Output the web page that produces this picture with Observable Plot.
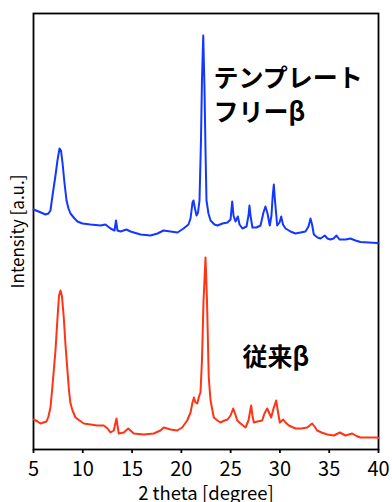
<!DOCTYPE html>
<html>
<head>
<meta charset="utf-8">
<script src="https://cdn.jsdelivr.net/npm/d3@7"></script>
<script src="https://cdn.jsdelivr.net/npm/@observablehq/plot@0.6"></script>
<style>
  html, body { margin: 0; padding: 0; background: white; }
</style>
</head>
<body>
<div id="chart"></div>
<script>
// X-ray diffraction patterns (intensity in arbitrary units, stacked)
const blueTheta = [5.00,5.51,6.22,6.52,6.72,6.93,7.23,7.43,7.64,7.79,7.94,8.15,8.35,8.55,8.75,9.16,9.46,9.97,10.78,11.80,12.30,12.81,13.22,13.37,13.52,13.83,14.43,14.84,15.86,16.87,17.58,18.19,18.90,19.61,20.22,20.72,20.93,21.13,21.23,21.38,21.54,21.69,21.84,21.99,22.09,22.22,22.35,22.45,22.55,22.75,22.96,23.36,23.67,24.17,24.68,24.99,25.16,25.29,25.49,25.73,25.90,26.20,26.61,26.81,26.91,27.01,27.21,27.62,28.03,28.33,28.53,28.74,28.97,29.14,29.27,29.38,29.50,29.72,29.96,30.13,30.31,30.57,31.07,31.58,32.09,32.59,32.90,33.10,33.26,33.44,33.81,34.12,34.55,34.82,35.13,35.44,35.74,36.04,36.65,37.16,37.66,38.17,38.98,39.87,40.00];
const blueIntensity = [240,238,235,236,239,254,274,289,301,299,287,266,249,241,236,231,228,226,225,224,225,221,219,229,219,218,220,218,215,214,216,219,218,217,221,225,231,247,249,241,234,237,249,309,369,414,359,299,249,236,229,225,224,226,227,230,248,234,228,233,225,221,223,234,244,234,222,222,224,237,243,236,224,234,254,265,249,224,227,233,225,221,218,216,217,218,223,231,225,215,212,211,214,211,210,211,214,210,210,211,209,207.5,207,206.5,206];

const redTheta = [5.03,5.41,5.71,6.01,6.32,6.52,6.72,6.93,7.23,7.43,7.59,7.74,7.89,8.07,8.25,8.42,8.60,8.75,8.96,9.26,9.67,10.10,10.78,11.46,12.13,12.51,12.81,13.15,13.32,13.42,13.52,13.65,14.16,14.61,15.18,16.19,17.20,17.88,18.22,18.90,19.58,20.09,20.59,20.93,21.13,21.28,21.43,21.61,21.79,21.94,22.09,22.25,22.45,22.60,22.78,22.96,23.29,23.67,23.97,24.38,24.68,24.99,25.26,25.45,25.67,26.00,26.51,26.81,27.08,27.21,27.35,27.72,28.20,28.43,28.71,28.89,29.11,29.35,29.62,29.81,29.99,30.33,30.57,30.90,31.58,32.19,32.77,33.27,33.51,33.78,34.22,34.80,35.47,36.08,36.65,37.33,37.77,38.17,38.98,39.87,40.00];
const redIntensity = [30,28,26,27,28,33,42,64,99,131,154,159,153,132,104,82,59,46,39,32,29,26,25,24,24,21,17,19,27,31,24,16,17,21,16,15,16,19,22,20,19,22,29,37,47,52,47,46,53,57,89,149,192,149,72,49,32,29,27,29,30,34,41,36,29,26,22,29,44,34,27,28,29,36,41,37,32,41,49,37,27,30,27,24,21,21,22,26,23,19,17,15,14,17,14,16,13.5,12,12,12,11.5];

const xTicks = [5,10,15,20,25,30,35,40];
const xLabel = "2 theta [degree]";
const yLabel = "Intensity [a.u.]";

const annoText = ["テンプレート", "フリーβ", "従来β"];
const annoTheta = [23.25, 23.25, 26.2];
const annoIntensity = [371, 337, 92];

const blueColor = "#1238ff";
const redColor = "#ff3414";

const blue = blueTheta.map((t, i) => ({theta: t, intensity: blueIntensity[i]}));
const red = redTheta.map((t, i) => ({theta: t, intensity: redIntensity[i]}));

const font = "'Noto Sans CJK JP', 'Noto Sans', sans-serif";

const chart = Plot.plot({
  width: 392,
  height: 502,
  marginTop: 13,
  marginLeft: 33,
  marginRight: 14,
  marginBottom: 53,
  style: {fontFamily: font, background: "white", color: "black"},
  x: {domain: [5, 40]},
  y: {domain: [0, 436], axis: null},
  marks: [
    Plot.frame({stroke: "black", strokeWidth: 1.8}),
    Plot.line(blue, {x: "theta", y: "intensity", stroke: blueColor, strokeWidth: 2}),
    Plot.line(red, {x: "theta", y: "intensity", stroke: redColor, strokeWidth: 2}),
    Plot.axisX({ticks: xTicks, tickSize: 4, tickPadding: 8, fontSize: 20, strokeWidth: 1.8, label: null, tickFormat: d => String(d)}),
    Plot.text([xLabel], {frameAnchor: "bottom", dy: 45, text: d => d, fontSize: 18.5, textAnchor: "middle", lineAnchor: "middle", fill: "black"}),
    Plot.text([yLabel], {frameAnchor: "left", dx: -15, rotate: -90, text: d => d, fontSize: 17, textAnchor: "middle", lineAnchor: "middle", fill: "black"}),
    Plot.text(annoText, {x: annoTheta, y: annoIntensity, text: annoText, textAnchor: "start", fontSize: 25, fontWeight: "bold", fill: "black"})
  ]
});

document.getElementById("chart").appendChild(chart);
</script>
</body>
</html>
